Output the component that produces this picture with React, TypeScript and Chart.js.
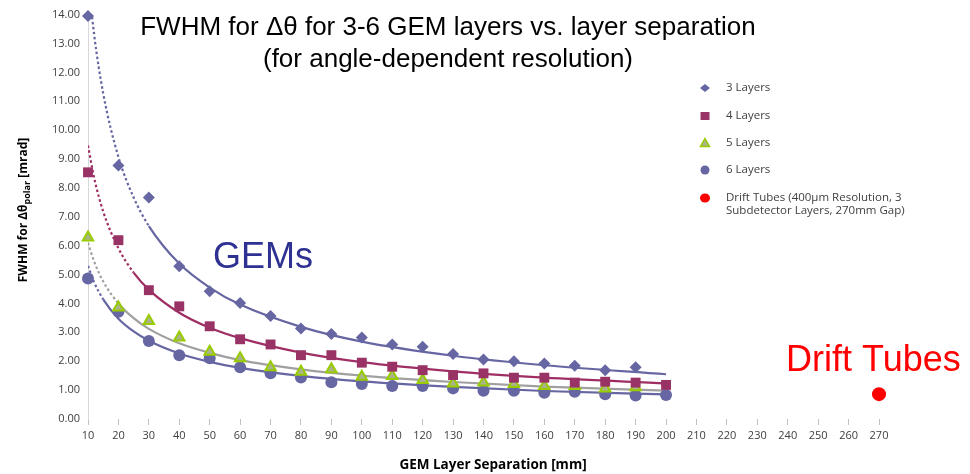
import React, { useEffect, useRef } from "react";
import { Chart, registerables } from "chart.js";

Chart.register(...registerables);

// ---- Data ----
const separations = [10, 20, 30, 40, 50, 60, 70, 80, 90, 100, 110, 120, 130, 140, 150, 160, 170, 180, 190, 200];

const layers3 = [13.95, 8.78, 7.67, 5.29, 4.42, 4.02, 3.57, 3.13, 2.94, 2.82, 2.58, 2.5, 2.25, 2.06, 2.0, 1.92, 1.84, 1.69, 1.79];
const layers4 = [8.54, 6.19, 4.46, 3.9, 3.21, 2.76, 2.58, 2.21, 2.21, 1.95, 1.81, 1.69, 1.52, 1.58, 1.43, 1.43, 1.26, 1.29, 1.26, 1.18];
const layers5 = [6.28, 3.86, 3.39, 2.82, 2.33, 2.1, 1.79, 1.64, 1.72, 1.46, 1.49, 1.35, 1.23, 1.26, 1.21, 1.14, 1.14, 1.06, 1.1];
const layers6 = [4.86, 3.71, 2.7, 2.21, 2.1, 1.79, 1.58, 1.44, 1.27, 1.21, 1.14, 1.14, 1.06, 0.98, 0.98, 0.91, 0.94, 0.86, 0.81, 0.83];

const driftTubeSeparation = [270];
const driftTubeValue = [0.86];

// Trend lines (at sample separations)
const trendX = [10, 12, 15, 20, 25, 30, 40, 50, 60, 80, 100, 130, 160, 200];
const trend3 = [15.3, 13.32, 11.27, 9.07, 7.67, 6.68, 5.38, 4.55, 3.96, 3.19, 2.68, 2.19, 1.86, 1.55];
const trend4 = [9.47, 8.36, 7.18, 5.91, 5.07, 4.48, 3.68, 3.16, 2.8, 2.3, 1.97, 1.65, 1.43, 1.23];
const trend5 = [6.1, 5.46, 4.76, 4.0, 3.49, 3.12, 2.62, 2.29, 2.04, 1.72, 1.5, 1.28, 1.12, 0.98];
const trend6 = [5.3, 4.74, 4.14, 3.47, 3.03, 2.71, 2.27, 1.98, 1.77, 1.49, 1.3, 1.11, 0.97, 0.85];

const legendLabels = ["3 Layers", "4 Layers", "5 Layers", "6 Layers"];
const driftLegendLines = ["Drift Tubes (400µm Resolution, 3", "Subdetector Layers, 270mm Gap)"];
const titleLines = ["FWHM for Δθ for 3-6 GEM layers vs. layer separation", "(for angle-dependent resolution)"];
const xTitle = "GEM Layer Separation [mm]";
const yTitleParts = ["FWHM for Δθ", "polar", " [mrad]"];

const C3 = "#6666a3";
const C4 = "#993366";
const C5 = "#99cc00";
const C5FILL = "#aab38a";
const C5TREND = "#a0a0a0";
const C6 = "#6666a3";
const RED = "#ff0000";

const toPts = (xs: number[], ys: number[]) => ys.map((y, i) => ({ x: xs[i], y }));

const steepDash = (c: any) => {
  const dx = c.p1.x - c.p0.x;
  const dy = c.p1.y - c.p0.y;
  return Math.abs(dy / (dx || 1e-6)) > 1.4 ? [2.5, 2.5] : undefined;
};

const overlayPlugin = {
  id: "overlay",
  afterDraw(chart: any) {
    const ctx: CanvasRenderingContext2D = chart.ctx;
    ctx.save();
    // Title
    ctx.fillStyle = "#000";
    ctx.textAlign = "center";
    ctx.textBaseline = "alphabetic";
    ctx.font = '26px "Liberation Sans", Arial, sans-serif';
    ctx.fillText(titleLines[0], 448, 35);
    ctx.fillText(titleLines[1], 448, 67);

    // Big annotations
    ctx.textAlign = "left";
    ctx.font = '36px "Liberation Sans", Arial, sans-serif';
    ctx.fillStyle = "#2e3192";
    ctx.fillText("GEMs", 213, 268);
    ctx.fillStyle = RED;
    ctx.fillText("Drift Tubes", 786, 371);

    // X title
    ctx.fillStyle = "#000";
    ctx.textAlign = "center";
    ctx.textBaseline = "middle";
    ctx.font = 'bold 13.5px "Open Sans", sans-serif';
    ctx.fillText(xTitle, 493, 465);

    // Y title (rotated, with subscript)
    ctx.save();
    ctx.translate(24, 210);
    ctx.rotate(-Math.PI / 2);
    ctx.textAlign = "left";
    ctx.textBaseline = "middle";
    const fMain = 'bold 12px "Open Sans", sans-serif';
    const fSub = 'bold 9px "Open Sans", sans-serif';
    ctx.font = fMain;
    const w0 = ctx.measureText(yTitleParts[0]).width;
    const w2 = ctx.measureText(yTitleParts[2]).width;
    ctx.font = fSub;
    const w1 = ctx.measureText(yTitleParts[1]).width;
    let x = -(w0 + w1 + w2) / 2;
    ctx.font = fMain;
    ctx.fillText(yTitleParts[0], x, 0);
    x += w0;
    ctx.font = fSub;
    ctx.fillText(yTitleParts[1], x, 3);
    x += w1;
    ctx.font = fMain;
    ctx.fillText(yTitleParts[2], x, 0);
    ctx.restore();

    // Legend
    const mx = 705;
    const tx = 726;
    const rows = [88, 116, 143, 170];
    ctx.font = '11.5px "Open Sans", sans-serif';
    ctx.fillStyle = "#404040";
    ctx.textAlign = "left";
    ctx.textBaseline = "middle";
    legendLabels.forEach((l, i) => ctx.fillText(l, tx, rows[i]));
    ctx.fillText(driftLegendLines[0], tx, 198);
    ctx.fillText(driftLegendLines[1], tx, 211);

    // markers
    ctx.fillStyle = C3;
    ctx.beginPath();
    ctx.moveTo(mx - 5, rows[0]);
    ctx.lineTo(mx, rows[0] - 4);
    ctx.lineTo(mx + 5, rows[0]);
    ctx.lineTo(mx, rows[0] + 4);
    ctx.closePath();
    ctx.fill();

    ctx.fillStyle = C4;
    ctx.fillRect(mx - 4.5, rows[1] - 4, 9, 8);

    ctx.fillStyle = C5FILL;
    ctx.strokeStyle = C5;
    ctx.lineWidth = 1.5;
    ctx.beginPath();
    ctx.moveTo(mx, rows[2] - 4.5);
    ctx.lineTo(mx + 4.5, rows[2] + 3.5);
    ctx.lineTo(mx - 4.5, rows[2] + 3.5);
    ctx.closePath();
    ctx.fill();
    ctx.stroke();

    ctx.fillStyle = C6;
    ctx.beginPath();
    ctx.arc(mx, rows[3], 4.5, 0, Math.PI * 2);
    ctx.fill();

    ctx.fillStyle = RED;
    ctx.beginPath();
    ctx.ellipse(mx, 198, 5, 4.5, 0, 0, Math.PI * 2);
    ctx.fill();

    ctx.restore();
  },
};

export default function App() {
  const canvasRef = useRef<HTMLCanvasElement | null>(null);

  useEffect(() => {
    if (!canvasRef.current) return;
    const chart = new Chart(canvasRef.current, {
      type: "scatter",
      data: {
        datasets: [
          {
            label: "Drift Tubes",
            data: toPts(driftTubeSeparation, driftTubeValue),
            backgroundColor: RED,
            borderColor: RED,
            pointStyle: "circle",
            pointRadius: 7,
            borderWidth: 0,
            showLine: false,
            clip: false as any,
          },
          {
            label: "3 Layers",
            data: toPts(separations, layers3),
            backgroundColor: C3,
            borderColor: C3,
            pointStyle: "rectRot",
            pointRadius: 6,
            borderWidth: 0,
            showLine: false,
            clip: false as any,
          },
          {
            label: "4 Layers",
            data: toPts(separations, layers4),
            backgroundColor: C4,
            borderColor: C4,
            pointStyle: "rect",
            pointRadius: 7,
            borderWidth: 0,
            showLine: false,
            clip: false as any,
          },
          {
            label: "5 Layers",
            data: toPts(separations, layers5),
            backgroundColor: C5FILL,
            borderColor: C5,
            pointStyle: "triangle",
            pointRadius: 6,
            borderWidth: 2,
            showLine: false,
            clip: false as any,
          },
          {
            label: "6 Layers",
            data: toPts(separations, layers6),
            backgroundColor: C6,
            borderColor: C6,
            pointStyle: "circle",
            pointRadius: 6,
            borderWidth: 0,
            showLine: false,
            clip: false as any,
          },
          ...[
            { d: trend3, c: C3 },
            { d: trend4, c: "#9e2e63" },
            { d: trend5, c: C5TREND },
            { d: trend6, c: C6 },
          ].map((t, i) => ({
            type: "line" as const,
            label: "trend" + i,
            data: toPts(trendX, t.d),
            borderColor: t.c,
            backgroundColor: t.c,
            borderWidth: 2.2,
            pointRadius: 0,
            showLine: true,
            fill: false,
            cubicInterpolationMode: "monotone" as const,
            segment: { borderDash: steepDash },
          })),
        ],
      },
      options: {
        animation: false,
        responsive: false,
        maintainAspectRatio: false,
        layout: { padding: { top: 14, right: 91, bottom: 0, left: 0 } },
        plugins: {
          legend: { display: false },
          tooltip: { enabled: false },
          title: { display: false },
        },
        scales: {
          x: {
            type: "linear",
            min: 10,
            max: 270,
            afterFit: (s: any) => {
              s.height = 55;
            },
            ticks: {
              stepSize: 10,
              color: "#404040",
              font: { family: '"Open Sans", sans-serif', size: 11 },
              padding: 4,
              maxRotation: 0,
              autoSkip: false,
            },
            grid: { drawOnChartArea: false, drawTicks: true, tickLength: 6, color: "#c0c0c0" },
            border: { display: false },
          },
          y: {
            type: "linear",
            min: 0,
            max: 14,
            afterFit: (s: any) => {
              s.width = 88;
            },
            ticks: {
              stepSize: 1,
              color: "#404040",
              font: { family: '"Open Sans", sans-serif', size: 11 },
              padding: 8,
              callback: (v: any) => Number(v).toFixed(2),
            },
            grid: { drawOnChartArea: false, drawTicks: false },
            border: { display: true, color: "#d8d8d8", width: 1, dash: [1, 13.46] },
          },
        },
      },
      plugins: [overlayPlugin],
    });
    return () => chart.destroy();
  }, []);

  return (
    <div style={{ position: "absolute", left: 0, top: 0, width: 970, height: 474, background: "#fff" }}>
      <canvas ref={canvasRef} width={970} height={474} style={{ width: 970, height: 474, display: "block" }} />
    </div>
  );
}
